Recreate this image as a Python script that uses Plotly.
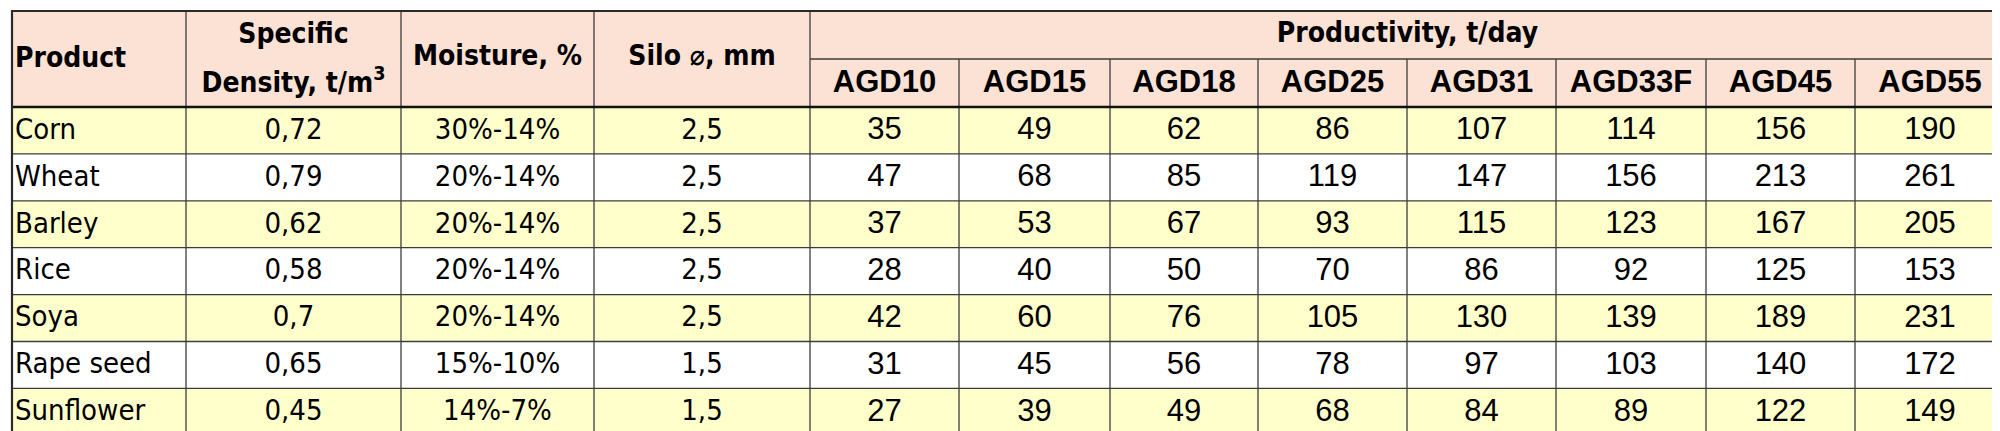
import plotly.graph_objects as go

# table content
products = ["Corn", "Wheat", "Barley", "Rice", "Soya", "Rape seed", "Sunflower"]
density = ["0,72", "0,79", "0,62", "0,58", "0,7", "0,65", "0,45"]
moisture = ["30%-14%", "20%-14%", "20%-14%", "20%-14%", "20%-14%", "15%-10%", "14%-7%"]
silo = ["2,5", "2,5", "2,5", "2,5", "2,5", "1,5", "1,5"]
models = ["AGD10", "AGD15", "AGD18", "AGD25", "AGD31", "AGD33F", "AGD45", "AGD55"]

# productivity per product, in model order
productivity = [
    [35, 49, 62, 86, 107, 114, 156, 190],
    [47, 68, 85, 119, 147, 156, 213, 261],
    [37, 53, 67, 93, 115, 123, 167, 205],
    [28, 40, 50, 70, 86, 92, 125, 153],
    [42, 60, 76, 105, 130, 139, 189, 231],
    [31, 45, 56, 78, 97, 103, 140, 172],
    [27, 39, 49, 68, 84, 89, 122, 149],
]

header_left = ["Product", "Specific", "Density, t/m<sup>3</sup>", "Moisture, %", "Silo \u2300, mm"]
group_title = "Productivity, t/day"

# geometry (px, y grows downward)
col_widths = [174, 215, 193, 216, 149, 151, 148, 149, 149, 150, 149, 150]
x0, y0 = 4, 3
head_h = 48
row_h = 46.9

PINK = "#FBE2D5"
YELLOW = "#FFFFCC"
GRID = "#3c3c3c"
TEXT_FONT = "DejaVu Sans Condensed, DejaVu Sans, Roboto"
NUM_FONT = "Liberation Sans, Arial"

edges = [x0]
for w in col_widths:
    edges.append(edges[-1] + w)
x_end = edges[-1]
centers = [(edges[i] + edges[i + 1]) / 2 for i in range(len(col_widths))]

body_top = y0 + 2 * head_h
row_tops = [body_top + i * row_h for i in range(len(products))]
row_mid = [t + row_h / 2 + 1 for t in row_tops]
y_end = body_top + len(products) * row_h

fig = go.Figure()
shapes = []

# backgrounds
shapes.append(dict(type="rect", x0=x0, x1=x_end, y0=y0, y1=body_top,
                   fillcolor=PINK, line_width=0, layer="below"))
for i, t in enumerate(row_tops):
    shapes.append(dict(type="rect", x0=x0, x1=x_end, y0=t, y1=t + row_h,
                       fillcolor=YELLOW if i % 2 == 0 else "white",
                       line_width=0, layer="below"))

# grid lines
for i, e in enumerate(edges[1:-1], start=1):
    top = y0 if i <= 4 else y0 + head_h
    shapes.append(dict(type="line", x0=e, x1=e, y0=top, y1=y_end,
                       line=dict(color=GRID, width=1.3)))
shapes.append(dict(type="line", x0=edges[4], x1=x_end, y0=y0 + head_h, y1=y0 + head_h,
                   line=dict(color=GRID, width=1.3)))
for t in row_tops[1:]:
    shapes.append(dict(type="line", x0=x0, x1=x_end, y0=t, y1=t,
                       line=dict(color=GRID, width=1.3)))
shapes.append(dict(type="line", x0=x0, x1=x_end, y0=body_top, y1=body_top,
                   line=dict(color="#111111", width=2.6)))
shapes.append(dict(type="rect", x0=x0, x1=x_end, y0=y0, y1=y_end,
                   line=dict(color="#2a2a2a", width=2.2)))


def add_text(xs, ys, texts, font, pos="middle center"):
    fig.add_trace(go.Scatter(x=xs, y=ys, text=texts, mode="text",
                             textposition=pos, textfont=font, hoverinfo="skip"))


# header text
hfont = dict(family=TEXT_FONT, size=28, color="black")
add_text([x0 + 3], [y0 + head_h + 1], ["<b>" + header_left[0] + "</b>"], hfont, "middle right")
add_text([centers[1]], [y0 + 25], ["<b>" + header_left[1] + "</b>"], hfont)
add_text([centers[1]], [y0 + 74], ["<b>" + header_left[2] + "</b>"], hfont)
add_text(centers[2:4], [y0 + head_h - 1] * 2, ["<b>" + h + "</b>" for h in header_left[3:5]], hfont)
add_text([(edges[4] + x_end) / 2], [y0 + head_h / 2], ["<b>" + group_title + "</b>"], hfont)
add_text(centers[4:], [y0 + 1.5 * head_h + 1] * len(models), ["<b>" + m + "</b>" for m in models],
         dict(family=NUM_FONT, size=31, color="black"))

# body text
bfont = dict(family=TEXT_FONT, size=29, color="black")
add_text([x0 + 3] * len(products), row_mid, products, bfont, "middle right")
for c, vals in zip(centers[1:4], [density, moisture, silo]):
    add_text([c] * len(vals), row_mid, vals, bfont)
for j, c in enumerate(centers[4:]):
    add_text([c] * len(products), row_mid, [str(r[j]) for r in productivity],
             dict(family=NUM_FONT, size=31, color="black"))

fig.update_layout(
    width=2000, height=431,
    margin=dict(l=0, r=0, t=0, b=0),
    paper_bgcolor="white", plot_bgcolor="white",
    showlegend=False,
    shapes=shapes,
    xaxis=dict(range=[0, 2000], visible=False, fixedrange=True),
    yaxis=dict(range=[431, 0], visible=False, fixedrange=True),
)

fig.write_html("out.html", config={"displayModeBar": False})
